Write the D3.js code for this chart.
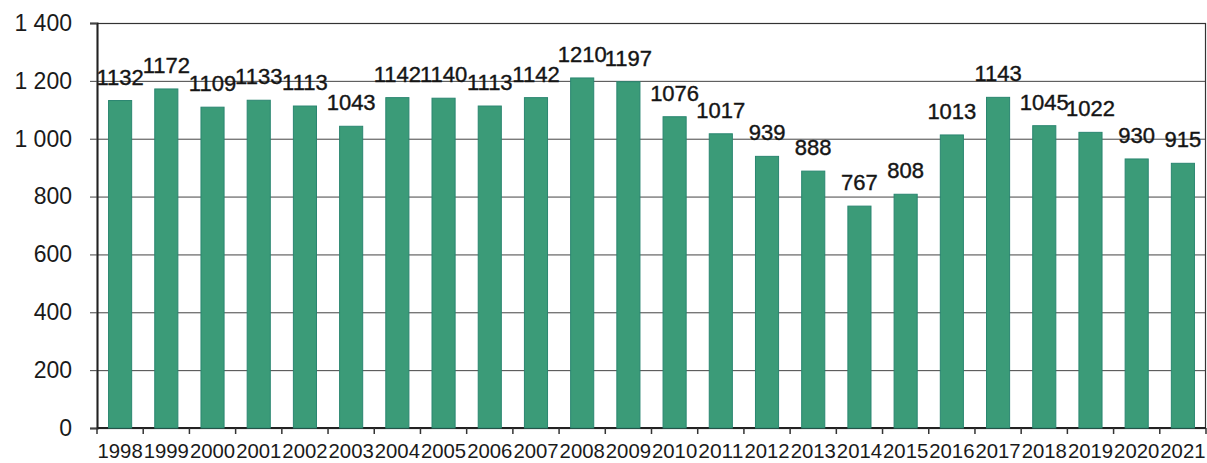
<!DOCTYPE html>
<html>
<head>
<meta charset="utf-8">
<script src="https://cdn.jsdelivr.net/npm/d3@7"></script>
<style>
  html, body { margin: 0; padding: 0; background: #fff; }
  svg { display: block; font-family: "Liberation Sans", Arial, sans-serif; }
</style>
</head>
<body>
<svg id="chart" width="1207" height="463"></svg>
<script>
// data
var years = ["1998","1999","2000","2001","2002","2003","2004","2005","2006","2007","2008","2009",
             "2010","2011","2012","2013","2014","2015","2016","2017","2018","2019","2020","2021"];
var counts = [1132,1172,1109,1133,1113,1043,1142,1140,1113,1142,1210,1197,
              1076,1017,939,888,767,808,1013,1143,1045,1022,930,915];
var yTicks = [0,200,400,600,800,1000,1200,1400];

var width = 1207, height = 463
  , margin = {top: 23, right: 1, bottom: 35, left: 97}
  , innerW = width - margin.left - margin.right
  , innerH = height - margin.top - margin.bottom;

var svg = d3.select("#chart");
var g = svg.append("g").attr("transform", "translate(" + margin.left + "," + margin.top + ")");

var x = d3.scaleBand().domain(years).range([0, innerW]).paddingInner(0.5).paddingOuter(0.25);
var y = d3.scaleLinear().domain([0, 1400]).range([innerH, 0]);

//numbers with a space as thousands separator, like "1 400"
var fmt = d3.formatLocale({decimal: ",", thousands: " ", grouping: [3], currency: ["", ""]}).format(",d");

// gridlines
g.append("g").selectAll("line")
    .data(yTicks)
  .enter().append("line")
    .attr("x1", 0).attr("x2", innerW)
    .attr("y1", function(d) { return y(d) + 0.5; })
    .attr("y2", function(d) { return y(d) + 0.5; })
    .attr("stroke", "#444").attr("stroke-width", 1);

// plot border
g.append("rect")
  .attr("x", 0.5).attr("y", 0.5)
  .attr("width", innerW - 1).attr("height", innerH)
  .attr("fill", "none").attr("stroke", "#333").attr("stroke-width", 1.2);

// y axis
var yAxis = g.append("g")
  .call(d3.axisLeft(y).tickValues(yTicks).tickFormat(fmt).tickSize(7).tickPadding(18));
yAxis.select(".domain").attr("stroke", "#222").attr("stroke-width", 2);
yAxis.selectAll(".tick line").attr("stroke", "#444");
yAxis.selectAll("text").attr("font-size", 23).attr("fill", "#1a1a1a");

// x axis, ticks sit between the categories
var xAxis = g.append("g").attr("transform", "translate(0," + innerH + ")");
xAxis.append("line").attr("x1", 0).attr("x2", innerW).attr("stroke", "#222").attr("stroke-width", 2);
xAxis.selectAll(".sep")
    .data(years.concat(["end"]))
  .enter().append("line")
    .attr("class", "sep")
    .attr("x1", function(d, i) { return i * x.step(); })
    .attr("x2", function(d, i) { return i * x.step(); })
    .attr("y1", 0).attr("y2", 6)
    .attr("stroke", "#333").attr("stroke-width", 1.5);
xAxis.selectAll("text")
    .data(years)
  .enter().append("text")
    .attr("x", function(d) { return x(d) + x.bandwidth() / 2; })
    .attr("y", 30)
    .attr("text-anchor", "middle")
    .attr("font-size", 21)
    .attr("textLength", x.step() - 1)
    .attr("lengthAdjust", "spacingAndGlyphs")
    .attr("fill", "#1a1a1a")
    .text(function(d) { return d; });

// bars
g.append("g").selectAll("rect")
    .data(counts)
  .enter().append("rect")
    .attr("x", function(d, i) { return x(years[i]); })
    .attr("y", function(d) { return y(d); })
    .attr("width", x.bandwidth())
    .attr("height", function(d) { return innerH - y(d); })
    .attr("fill", "#3b9b78")
    .attr("stroke", "#2a8670").attr("stroke-width", 1);

// value labels above the bars
g.append("g").selectAll("text")
    .data(counts)
  .enter().append("text")
    .attr("x", function(d, i) { return x(years[i]) + x.bandwidth() / 2; })
    .attr("y", function(d) { return y(d) - 16; })
    .attr("text-anchor", "middle")
    .attr("font-size", 22)
    .attr("fill", "#151515")
    .attr("stroke", "#151515").attr("stroke-width", 0.4)
    .text(function(d) { return d; });
</script>
</body>
</html>
